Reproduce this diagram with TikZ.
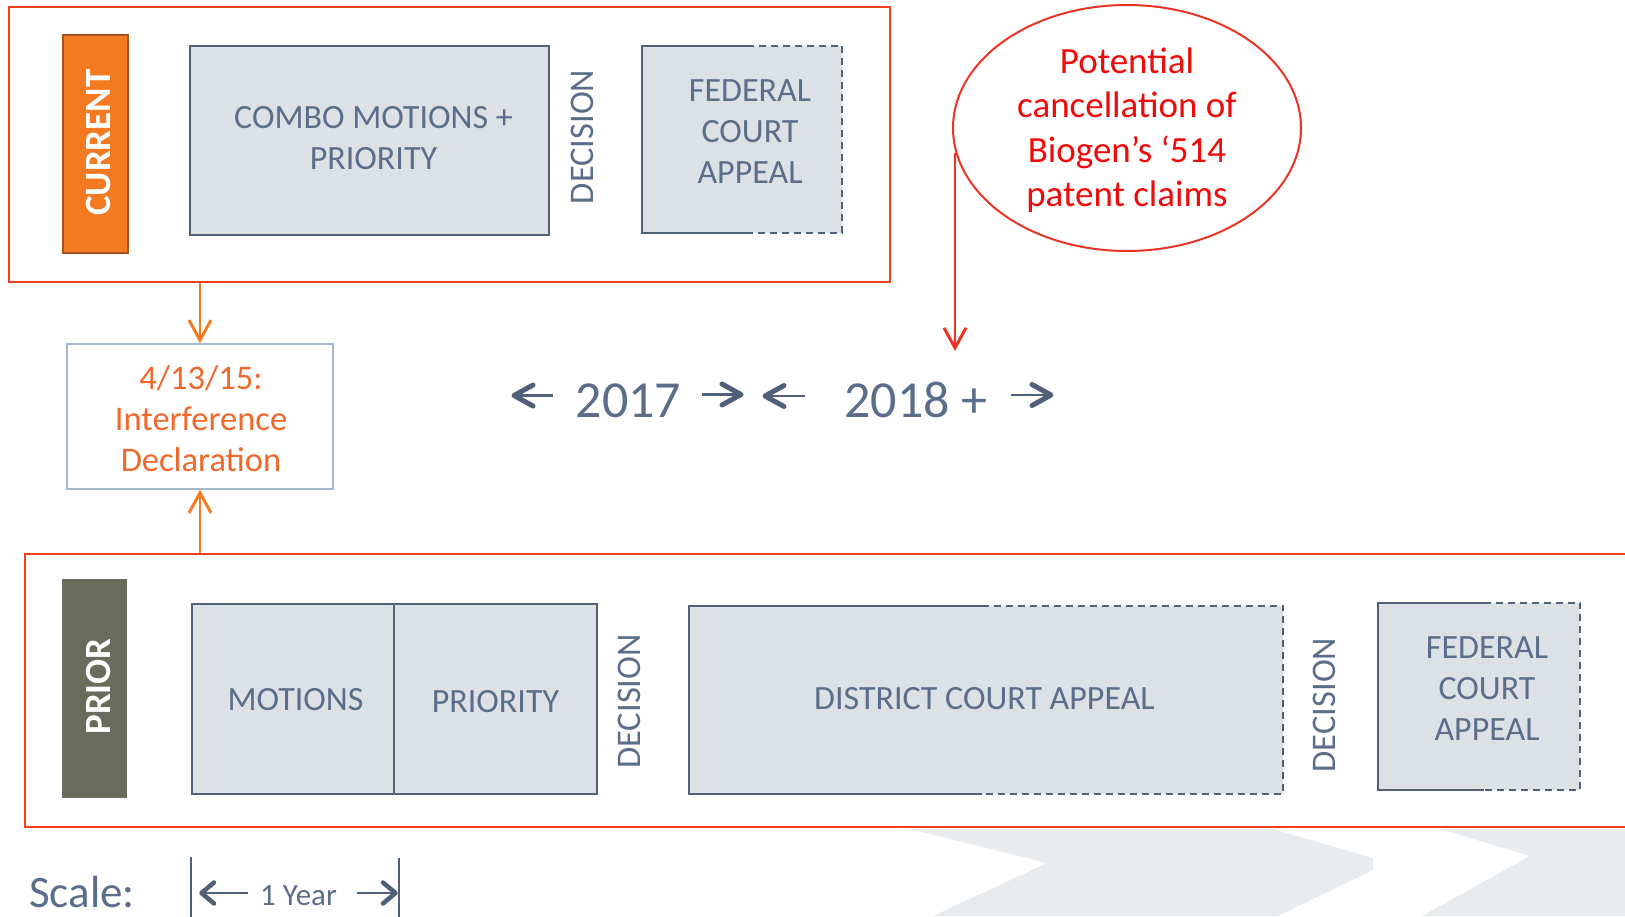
\documentclass[tikz,border=0pt]{standalone}
\usepackage{fontspec}
\setmainfont{Carlito}
\usetikzlibrary{arrows.meta,calc,shapes.geometric}
\definecolor{txt}{HTML}{5A6E8A}
\definecolor{boxfill}{HTML}{DCE1E6}
\definecolor{boxline}{HTML}{506178}
\definecolor{arrowc}{HTML}{4F6078}
\definecolor{framec}{HTML}{F2401E}
\definecolor{orangec}{HTML}{F47B20}
\definecolor{orangetext}{HTML}{F2682A}
\definecolor{redtxt}{HTML}{F20A0A}
\definecolor{ellred}{HTML}{EE3322}
\definecolor{chev}{HTML}{E8ECEF}
\definecolor{curfill}{HTML}{F47A22}
\definecolor{curborder}{HTML}{A9501A}
\definecolor{priorfill}{HTML}{696C5A}
\definecolor{intfline}{HTML}{A8B8CB}
\begin{document}
\begin{tikzpicture}[x=1pt,y=-1pt,
  frame/.style={draw=framec, line width=2.5pt, inner sep=0pt},
  gfill/.style={fill=boxfill, inner sep=0pt},
  gbox/.style={fill=boxfill, draw=boxline, line width=2pt, inner sep=0pt},
  bline/.style={draw=boxline, line width=2pt},
  bdash/.style={draw=boxline, line width=2pt, dash pattern=on 7pt off 5pt},
  btext/.style={font=\fontsize{34pt}{41pt}\selectfont, text=txt, align=center, inner sep=0pt},
  dectext/.style={font=\fontsize{34.5pt}{34.5pt}\selectfont, text=txt, rotate=90, inner sep=0pt},
  bartext/.style={font=\bfseries\fontsize{37pt}{37pt}\selectfont, text=white, rotate=90, inner sep=0pt},
  orarrow/.style={draw=orangec, line width=2pt, -{Straight Barb[length=20pt,width=22pt,line width=3pt]}},
  redarrow/.style={draw=ellred, line width=2pt, -{Straight Barb[length=20pt,width=22pt,line width=3pt]}},
  shaft/.style={draw=arrowc, line width=2.5pt},
  head/.style={draw=arrowc, line width=5pt, line cap=round, line join=round},
  yeartext/.style={font=\fontsize{52pt}{52pt}\selectfont, text=txt, inner sep=0pt}
]
\useasboundingbox (0,0) rectangle (1625,916);

% background chevrons
\fill[chev] (910,829) -- (1047,863) -- (933,916) -- (1278,916) -- (1373,870) -- (1373,858) -- (1273,829) -- cycle;
\fill[chev] (1440,829) -- (1530,856) -- (1422,916) -- (1625,916) -- (1625,829) -- cycle;

% ---------- CURRENT ----------
\node[frame, minimum width=881pt, minimum height=275pt] (cur) at (449.5,144.5) {};
\node[fill=curfill, draw=curborder, line width=1.5pt, minimum width=65pt, minimum height=218pt, inner sep=0pt] (curbar) at (95.5,144) {};
\node[bartext] (curlab) at (98.5,142.5) {CURRENT};

\node[gbox, minimum width=359pt, minimum height=189pt] (combo) at (369.5,140.5) {};
\node[btext] (combotext) at ($(combo.center)+(4,-2.5)$) {COMBO MOTIONS +\\PRIORITY};

\node[dectext] (dec1) at (582.5,137) {DECISION};

\node[gfill, minimum width=200pt, minimum height=187pt] (fed1) at (742,139.5) {};
\draw[bline] ($(fed1.north west)+(105,0)$) -- (fed1.north west) -- (fed1.south west) -- ($(fed1.south west)+(105,0)$);
\draw[bdash] ($(fed1.north west)+(105,0)$) -- (fed1.north east) -- (fed1.south east) -- ($(fed1.south west)+(105,0)$);
\node[btext] (fed1text) at ($(fed1.center)+(8,-8)$) {FEDERAL\\COURT\\APPEAL};

% ---------- ellipse ----------
\node[ellipse, draw=ellred, line width=2pt, minimum width=348pt, minimum height=246pt, inner sep=0pt] (ell) at (1127,128) {};
\node[font=\fontsize{37pt}{44.5pt}\selectfont, text=redtxt, align=center, inner sep=0pt] (elltext) at (1127,130) {Potential\\cancellation of\\Biogen’s ‘514\\patent claims};
\coordinate (redstart) at (955,153);
\coordinate (redend) at (955,351);
\draw[redarrow] (redstart) -- (redend);

% ---------- interference ----------
\node[draw=intfline, line width=1.5pt, minimum width=266pt, minimum height=145pt, inner sep=0pt] (intf) at (200,416.5) {};
\node[font=\fontsize{34.5pt}{41pt}\selectfont, text=orangetext, align=center, inner sep=0pt] (intftext) at (201,419) {4/13/15:\\Interference\\Declaration};

% ---------- years ----------
\node[yeartext, anchor=base] (y2017) at (628.5,417) {2017};
\node[yeartext, anchor=base] (y2018) at (916,417) {2018 +};
% <- 2017
\draw[shaft] (553,395.5) -- (516,395.5);
\draw[head] (533,385) -- (514,395.5) -- (533,406);
% 2017 ->
\draw[shaft] (702,394.5) -- (739,394.5);
\draw[head] (722,384) -- (741,394.5) -- (722,405);
% <- 2018
\draw[shaft] (805,396) -- (767,396);
\draw[head] (784,385.5) -- (765,396) -- (784,406.5);
% 2018 ->
\draw[shaft] (1011,395) -- (1049,395);
\draw[head] (1032,384.5) -- (1051,395) -- (1032,405.5);

% ---------- PRIOR ----------
\node[frame, minimum width=1620pt, minimum height=273pt] (prior) at (835,690.5) {};
\node[fill=priorfill, minimum width=65pt, minimum height=219pt, inner sep=0pt] (priorbar) at (94.5,688.5) {};
\node[bartext] (priorlab) at (98.3,686.5) {PRIOR};

\node[gbox, minimum width=202pt, minimum height=190pt] (motions) at (293,699) {};
\node[btext] (motionstext) at (295.5,700) {MOTIONS};
\node[gbox, minimum width=203pt, minimum height=190pt] (priority) at (495.5,699) {};
\node[btext] (prioritytext) at (495.5,702) {PRIORITY};

\node[dectext] (dec2) at (629.5,701.5) {DECISION};

\node[gfill, minimum width=594pt, minimum height=188pt] (dist) at (986,700) {};
\draw[bline] ($(dist.north west)+(293,0)$) -- (dist.north west) -- (dist.south west) -- ($(dist.south west)+(293,0)$);
\draw[bdash] ($(dist.north west)+(293,0)$) -- (dist.north east) -- (dist.south east) -- ($(dist.south west)+(293,0)$);
\node[btext] (disttext) at (984.5,699) {DISTRICT COURT APPEAL};

\node[dectext] (dec3) at (1324,705) {DECISION};

\node[gfill, minimum width=202pt, minimum height=187pt] (fed2) at (1479,696.5) {};
\draw[bline] ($(fed2.north west)+(106,0)$) -- (fed2.north west) -- (fed2.south west) -- ($(fed2.south west)+(106,0)$);
\draw[bdash] ($(fed2.north west)+(106,0)$) -- (fed2.north east) -- (fed2.south east) -- ($(fed2.south west)+(106,0)$);
\node[btext] (fed2text) at ($(fed2.center)+(8,-8)$) {FEDERAL\\COURT\\APPEAL};

% ---------- connectors ----------
\draw[orarrow] (cur.south -| intf.north) -- (intf.north);
\draw[orarrow] (prior.north -| intf.south) -- (intf.south);

% ---------- scale ----------
\node[font=\fontsize{45pt}{45pt}\selectfont, text=txt, anchor=base west, inner sep=0pt] (scalelab) at (29,907) {Scale:};
\coordinate (barAtop) at (191,857);
\coordinate (barAbot) at (191,920);
\coordinate (barBtop) at (399,858);
\coordinate (barBbot) at (399,920);
\draw[draw=arrowc, line width=2pt] (barAtop) -- (barAbot);
\draw[draw=arrowc, line width=2pt] (barBtop) -- (barBbot);
\node[font=\fontsize{31pt}{31pt}\selectfont, text=txt, anchor=base, inner sep=0pt] (yearlab) at (298.5,905) {1 Year};
\draw[shaft, line width=2pt] (248,893) -- (203,893);
\draw[head, line width=4.5pt] (214,882.5) -- (201.5,893) -- (214,903.5);
\draw[shaft, line width=2pt] (357,893) -- (394,893);
\draw[head, line width=4.5pt] (383,882.5) -- (395.5,893) -- (383,903.5);
\end{tikzpicture}
\end{document}
